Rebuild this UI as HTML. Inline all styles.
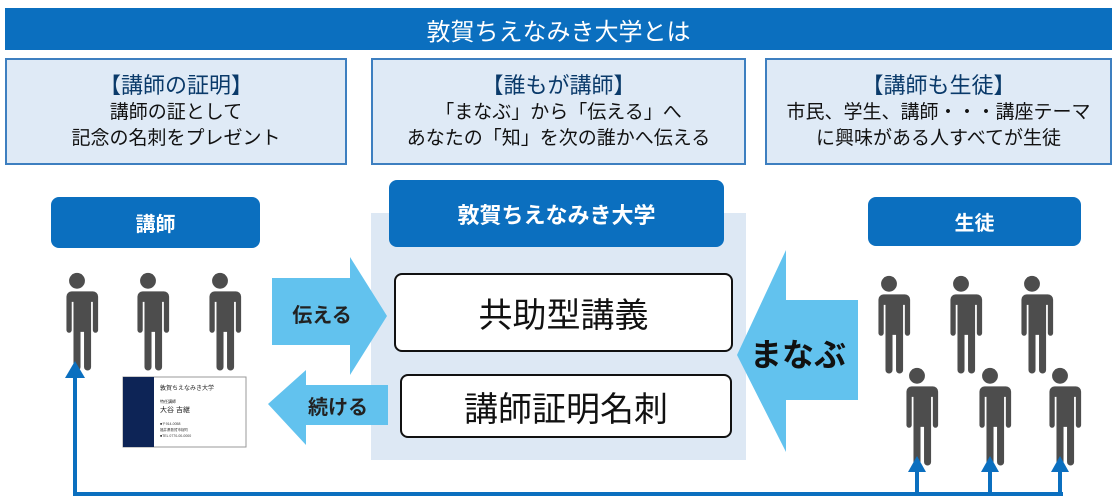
<!DOCTYPE html>
<html><head><meta charset="utf-8"><style>
*{margin:0;padding:0;box-sizing:border-box}
body{width:1116px;height:501px;background:#fff;position:relative;overflow:hidden;font-family:"Liberation Sans","Noto Sans CJK JP",sans-serif}
.a{position:absolute}
.tb{background:#dfeaf6;border:2px solid #3d7fc0;text-align:center;color:#111}
.tb h3{font-size:22px;font-weight:normal;margin-top:8px;color:#0a3a6a}
.tb p{font-size:19px;line-height:26px}
.hd{background:#0b6fbf;color:#fff;border-radius:8px;font-weight:bold;font-size:20px;display:flex;align-items:center;justify-content:center}
.wb{background:#fff;border:2px solid #111;border-radius:8px;display:flex;align-items:center;justify-content:center;font-size:34px;color:#111}
</style></head><body>
<div class="a" style="left:5px;top:8px;width:1107px;height:42px;background:#0b6fbf;color:#fff;font-size:24px;display:flex;align-items:center;justify-content:center">敦賀ちえなみき大学とは</div>
<div class="a tb" style="left:5px;top:58px;width:342px;height:107px"><h3>【講師の証明】</h3><p>講師の証として<br>記念の名刺をプレゼント</p></div>
<div class="a tb" style="left:371px;top:58px;width:375px;height:107px"><h3>【誰もが講師】</h3><p>「まなぶ」から「伝える」へ<br>あなたの「知」を次の誰かへ伝える</p></div>
<div class="a tb" style="left:765px;top:58px;width:347px;height:107px"><h3>【講師も生徒】</h3><p>市民、学生、講師・・・講座テーマ<br>に興味がある人すべてが生徒</p></div>
<div class="a" style="left:371px;top:213px;width:375px;height:247px;background:#dde8f4"></div>
<div class="a hd" style="left:51px;top:197px;width:209px;height:51px">講師</div>
<div class="a hd" style="left:389px;top:180px;width:335px;height:67px;font-size:22px">敦賀ちえなみき大学</div>
<div class="a hd" style="left:868px;top:197px;width:213px;height:49px">生徒</div>
<div class="a wb" style="left:394px;top:273px;width:339px;height:79px">共助型講義</div>
<div class="a wb" style="left:400px;top:374px;width:332px;height:64px">講師証明名刺</div>
<svg class="a" style="left:0;top:0" width="1116" height="501">
<defs><g id="p" fill="#4d4d4d" transform="scale(0.88) translate(0,-12)"><circle cx="0" cy="-78" r="9"/><path d="M-18,-66 h36 a6,6 0 0 1 6,6 v38 a3,3 0 0 1 -6,0 v-32 h-2 v74 a4,4 0 0 1 -8,0 v-40 h-4 v40 a4,4 0 0 1 -8,0 v-74 h-2 v32 a3,3 0 0 1 -6,0 v-38 a6,6 0 0 1 6,-6z"/></g></defs>
<polygon fill="#62c2ee" points="272,278 350,278 350,257 387,316 350,375 350,345 272,345"/>
<polygon fill="#62c2ee" points="388,385 306,385 306,370 268,404 306,445 306,425 388,425"/>
<polygon fill="#62c2ee" points="858,300 786,300 786,250 737,355 786,452 786,400 858,400"/>
<text x="322" y="322" font-size="20" font-weight="bold" text-anchor="middle" fill="#222">伝える</text>
<text x="338" y="414" font-size="20" font-weight="bold" text-anchor="middle" fill="#222">続ける</text>
<text x="798" y="366" font-size="32" font-weight="bold" text-anchor="middle" fill="#111">まなぶ</text>
<use href="#p" x="77" y="360"/><use href="#p" x="148" y="360"/><use href="#p" x="220" y="360"/>
<use href="#p" x="889" y="363"/><use href="#p" x="961" y="363"/><use href="#p" x="1032" y="363"/>
<use href="#p" x="917" y="455"/><use href="#p" x="990" y="455"/><use href="#p" x="1060" y="455"/>
<g fill="none" stroke="#0b6fbf" stroke-width="4"><path d="M75,494 H1063 M75,496 V375 M917,494 V470 M990,494 V470 M1060,494 V470"/></g>
<g fill="#0b6fbf"><polygon points="75,361 65,378 85,378"/><polygon points="917,456 908,472 926,472"/><polygon points="990,456 981,472 999,472"/><polygon points="1060,456 1051,472 1069,472"/></g>
<rect x="123" y="377" width="123" height="70" fill="#fff" stroke="#999"/>
<rect x="123" y="377" width="31" height="70" fill="#0d2456"/>
<text x="160" y="390" font-size="6" fill="#222">敦賀ちえなみき大学</text>
<text x="160" y="403" font-size="4" fill="#222">特任講師</text>
<text x="160" y="412" font-size="7" fill="#222">大谷 吉継</text>
<text x="160" y="425" font-size="3.5" fill="#333">■〒914-0058</text>
<text x="160" y="431" font-size="3.5" fill="#333">福井県敦賀市桜町</text>
<text x="160" y="437" font-size="3.5" fill="#333">■TEL 0770-00-0000</text>
</svg>
</body></html>
